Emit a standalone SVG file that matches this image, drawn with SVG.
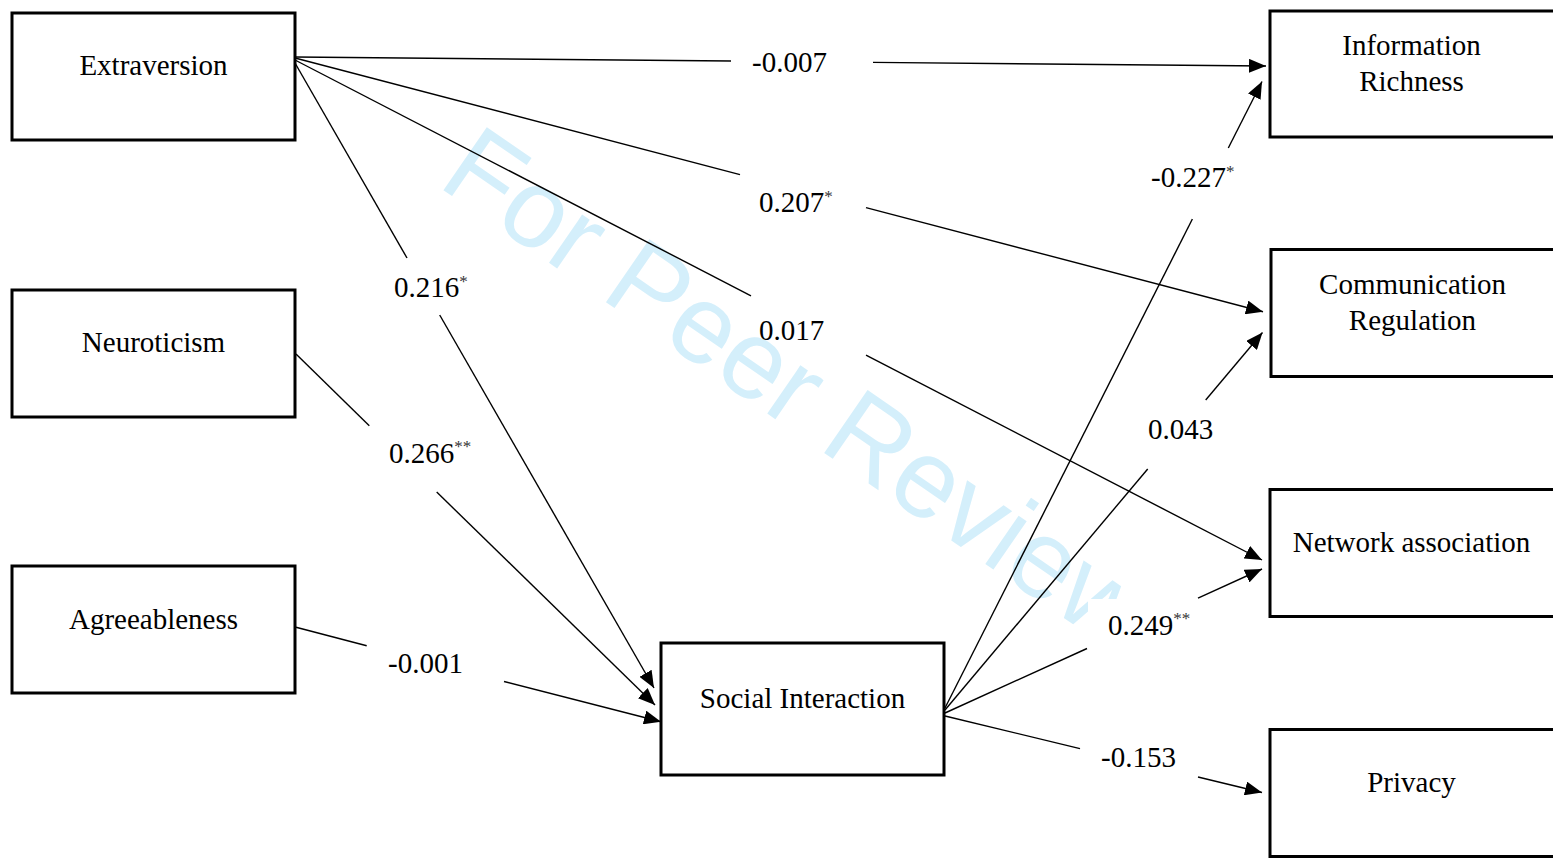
<svg xmlns="http://www.w3.org/2000/svg" width="1553" height="859" viewBox="0 0 1553 859">
<style>
.box{fill:none;stroke:#000;stroke-width:3}
.nt{font-family:"Liberation Serif","Times New Roman",serif;font-size:29px;fill:#000;text-anchor:middle}
.lb{font-family:"Liberation Serif","Times New Roman",serif;font-size:29px;fill:#000}
.sup{font-size:17px;fill:#333}
.ln{fill:none;stroke:#000;stroke-width:1.4}
.wm{font-family:"Liberation Sans",Arial,sans-serif;font-size:111px;fill:#d4effb}
</style>
<defs>
<marker id="ah" markerUnits="userSpaceOnUse" markerWidth="18" markerHeight="14" refX="17" refY="7" orient="auto">
<path d="M0,0 L17,7 L0,14 z" fill="#000"/>
</marker>
</defs>
<rect width="1553" height="859" fill="#fff"/>
<text class="wm" transform="translate(436,185) rotate(34.6)">For Peer Review</text>

<g id="connectors">
<path class="ln" d="M295,57 L731,61"/>
<path class="ln" d="M873,62.4 L1266,66" marker-end="url(#ah)"/>
<path class="ln" d="M295,58 L740,174.6"/>
<path class="ln" d="M866,207.6 L1263,311.7" marker-end="url(#ah)"/>
<path class="ln" d="M295,60 L751,295.8"/>
<path class="ln" d="M866,355.2 L1262,560" marker-end="url(#ah)"/>
<path class="ln" d="M295,63 L407,258"/>
<path class="ln" d="M439.7,315 L654,688" marker-end="url(#ah)"/>
<path class="ln" d="M296,354 L369.3,425.7"/>
<path class="ln" d="M436.7,492 L655,705" marker-end="url(#ah)"/>
<path class="ln" d="M296,627.3 L366.7,645.7"/>
<path class="ln" d="M504,681.5 L661,721.7" marker-end="url(#ah)"/>
<path class="ln" d="M945,708 L1192.4,219"/>
<path class="ln" d="M1228.3,148 L1262,81.5" marker-end="url(#ah)"/>
<path class="ln" d="M945,710 L1147.7,469"/>
<path class="ln" d="M1205.7,400 L1262.5,332.5" marker-end="url(#ah)"/>
<path class="ln" d="M945,713 L1087,648.5"/>
<path class="ln" d="M1198,598.1 L1262,569" marker-end="url(#ah)"/>
<path class="ln" d="M945,716 L1080,748.6"/>
<path class="ln" d="M1198,777 L1262,792.5" marker-end="url(#ah)"/>
</g>

<g id="labels">
<text class="lb" x="752" y="72">-0.007</text>
<text class="lb" x="759" y="212">0.207<tspan class="sup" dy="-10">*</tspan></text>
<text class="lb" x="759" y="340">0.017</text>
<text class="lb" x="394" y="297">0.216<tspan class="sup" dy="-10">*</tspan></text>
<text class="lb" x="389" y="463">0.266<tspan class="sup" dy="-11">**</tspan></text>
<text class="lb" x="388" y="673">-0.001</text>
<text class="lb" x="1151" y="187">-0.227<tspan class="sup" dy="-10">*</tspan></text>
<text class="lb" x="1148" y="439">0.043</text>
<rect x="1088" y="599" width="109" height="58" fill="#fff"/>
<text class="lb" x="1108" y="635">0.249<tspan class="sup" dy="-11">**</tspan></text>
<text class="lb" x="1101" y="767">-0.153</text>
</g>

<g id="extraversion"><rect class="box" x="12" y="13" width="283" height="127"/><text class="nt" x="153.5" y="75">Extraversion</text></g>
<g id="neuroticism"><rect class="box" x="12" y="290" width="283" height="127"/><text class="nt" x="153.5" y="352">Neuroticism</text></g>
<g id="agreeableness"><rect class="box" x="12" y="566" width="283" height="127"/><text class="nt" x="153.5" y="628.5">Agreeableness</text></g>
<g id="social-interaction"><rect class="box" x="661" y="643" width="283" height="132"/><text class="nt" x="802.5" y="708">Social Interaction</text></g>
<g id="information-richness"><rect class="box" x="1270" y="11" width="286" height="126"/><text class="nt" x="1411.5" y="55">Information</text><text class="nt" x="1411.5" y="91">Richness</text></g>
<g id="communication-regulation"><rect class="box" x="1271" y="249.5" width="286" height="127"/><text class="nt" x="1412.5" y="294">Communication</text><text class="nt" x="1412.5" y="330">Regulation</text></g>
<g id="network-association"><rect class="box" x="1270" y="489.5" width="286" height="127"/><text class="nt" x="1411.5" y="552">Network association</text></g>
<g id="privacy"><rect class="box" x="1270" y="729.5" width="286" height="127"/><text class="nt" x="1411.5" y="792">Privacy</text></g>
</svg>
